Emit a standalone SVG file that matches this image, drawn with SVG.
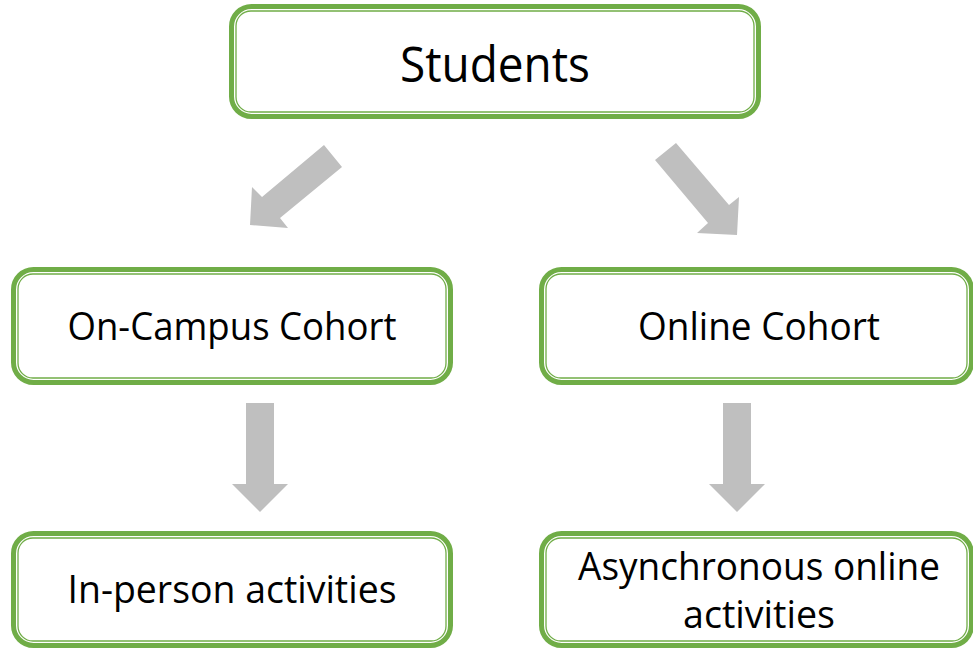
<svg xmlns="http://www.w3.org/2000/svg" width="973" height="648" viewBox="0 0 973 648">
<style>
.outer{fill:#fff;stroke:#70AD47;stroke-width:5}
.inner{fill:none;stroke:#70AD47;stroke-width:1.3}
.lbl{font-family:"Open Sans","Liberation Sans",sans-serif;font-size:39px;fill:#000;text-anchor:middle}
.big{font-size:49px}
.arrow{fill:#BFBFBF}
</style>
<rect width="973" height="648" fill="#fff"/>
<g id="students">
<rect class="outer" x="231.5" y="6.5" width="527" height="110" rx="20"/>
<rect class="inner" x="236" y="11" width="518" height="101" rx="15"/>
<text class="lbl big" x="495" y="82" textLength="190" lengthAdjust="spacingAndGlyphs">Students</text>
</g>
<g id="oncampus">
<rect class="outer" x="13.5" y="269.5" width="437" height="113" rx="20"/>
<rect class="inner" x="18" y="274" width="428" height="104" rx="15"/>
<text class="lbl" x="232" y="340" textLength="329" lengthAdjust="spacingAndGlyphs">On-Campus Cohort</text>
</g>
<g id="online">
<rect class="outer" x="541.5" y="269.5" width="430" height="113" rx="20"/>
<rect class="inner" x="546" y="274" width="421" height="104" rx="15"/>
<text class="lbl" x="759" y="340" textLength="242" lengthAdjust="spacingAndGlyphs">Online Cohort</text>
</g>
<g id="inperson">
<rect class="outer" x="13.5" y="533.5" width="437" height="112" rx="20"/>
<rect class="inner" x="18" y="538" width="428" height="103" rx="15"/>
<text class="lbl" x="232" y="603" textLength="329" lengthAdjust="spacingAndGlyphs">In-person activities</text>
</g>
<g id="async">
<rect class="outer" x="541.5" y="533.5" width="430" height="112" rx="20"/>
<rect class="inner" x="546" y="538" width="421" height="103" rx="15"/>
<text class="lbl" x="759" y="580" textLength="362" lengthAdjust="spacingAndGlyphs">Asynchronous online</text>
<text class="lbl" x="759" y="628" textLength="152" lengthAdjust="spacingAndGlyphs">activities</text>
</g>
<g id="connectors">
<polygon class="arrow" points="324,145 342,167 280,218 288,228 250,225 252,187 262,197"/>
<polygon class="arrow" points="676,143 729,205 739,197 737,235 697,233 708,223 655,160"/>
<polygon class="arrow" points="246,403 274,403 274,484 288,484 260,512 232,484 246,484"/>
<polygon class="arrow" points="723,403 751,403 751,484 765,484 737,512 709,484 723,484"/>
</g>
</svg>
